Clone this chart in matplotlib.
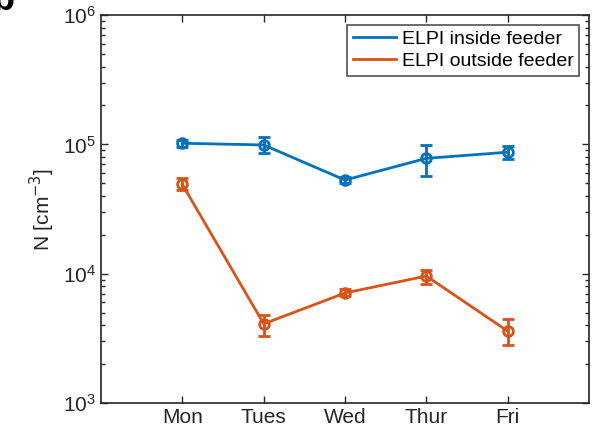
import matplotlib
matplotlib.use("Agg")
import matplotlib.pyplot as plt
import numpy as np
from matplotlib.lines import Line2D

plt.rcParams['font.family'] = ['Liberation Sans', 'DejaVu Sans']

days = ['Mon', 'Tues', 'Wed', 'Thur', 'Fri']
inside = [1.02e5, 0.99e5, 5.3e4, 7.8e4, 8.7e4]
inside_lo = [0.95e5, 8.6e4, 5.0e4, 5.7e4, 7.7e4]
inside_hi = [1.08e5, 1.14e5, 5.6e4, 9.9e4, 9.7e4]
outside = [4.9e4, 4.1e3, 7.1e3, 9.6e3, 3.6e3]
outside_lo = [4.45e4, 3.3e3, 6.7e3, 8.4e3, 2.8e3]
outside_hi = [5.5e4, 4.8e3, 7.6e3, 1.07e4, 4.45e3]

blue = '#0072BD'
orange = '#D95319'

fig = plt.figure(figsize=(6.05, 4.42), dpi=100)
ax = fig.add_axes([0.167, 0.088, 0.8066, 0.878])

x = np.arange(1, len(days) + 1)
for y, lo, hi, c, lab in [(inside, inside_lo, inside_hi, blue, 'ELPI inside feeder'),
                           (outside, outside_lo, outside_hi, orange, 'ELPI outside feeder')]:
    y = np.array(y)
    err = [y - np.array(lo), np.array(hi) - y]
    ax.errorbar(x, y, yerr=err, color=c, lw=2, marker='o', ms=7, mfc='none',
                mew=2, capsize=4, capthick=2, elinewidth=2, label=lab)

ax.set_yscale('log')
ax.set_ylim(1e3, 1e6)
ax.set_xlim(0, 6)
ax.set_xticks(x)
ax.set_xticklabels(days)
ax.tick_params(which='both', direction='in', top=True, right=True, labelsize=15, width=1, colors='#262626')
ax.tick_params(which='major', length=5)
ax.tick_params(which='minor', length=3)
ax.tick_params(axis='x', which='minor', bottom=False, top=False)
for s in ax.spines.values():
    s.set_linewidth(1.2)
    s.set_color('#262626')
ax.set_ylabel('N [cm$^{-3}$]', fontsize=15, color='#262626')

labels = ['ELPI inside feeder', 'ELPI outside feeder']
h2 = [Line2D([], [], color=blue, lw=2), Line2D([], [], color=orange, lw=2)]
leg = ax.legend(h2, labels, loc='upper right', fontsize=14, frameon=True, fancybox=False,
                edgecolor='#262626', handlelength=2.2, handletextpad=0.3, borderpad=0.3,
                labelspacing=0.2, borderaxespad=0.5)
leg.get_frame().set_linewidth(1.2)

fig.text(-0.012, 1 - 10 / 442, 'b', fontsize=26, fontweight='bold', va='baseline', ha='left')

fig.savefig('out.png', dpi=100)
